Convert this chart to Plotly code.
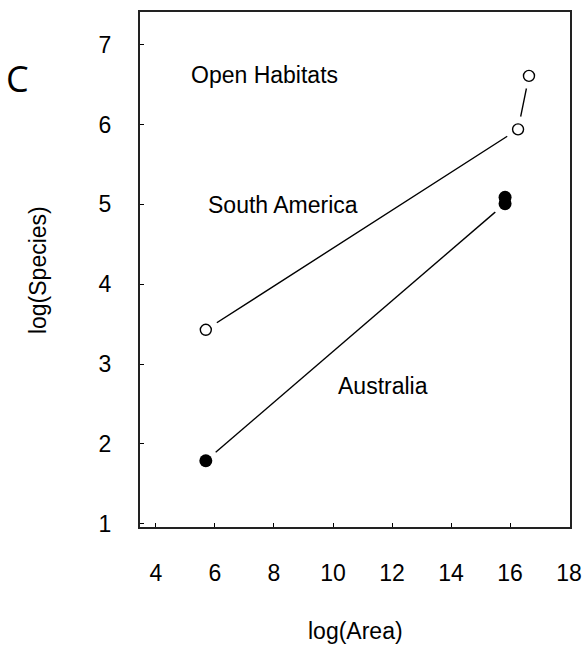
import plotly.graph_objects as go

# Data
open_x = [5.69, 16.27, 16.64]
open_y = [3.43, 5.94, 6.61]
filled_x = [5.69, 15.83, 15.83]
filled_y = [1.79, 5.01, 5.09]

x_ticks = [4, 6, 8, 10, 12, 14, 16, 18]
y_ticks = [1, 2, 3, 4, 5, 6, 7]

labels = ["Open Habitats", "South America", "Australia"]
label_x = [7.69, 8.31, 11.69]
label_y = [6.62, 4.99, 2.73]

fig = go.Figure()

# connecting lines
fig.add_trace(go.Scatter(x=open_x, y=open_y, mode="lines",
                         line=dict(color="black", width=1.4), showlegend=False, hoverinfo="skip"))
fig.add_trace(go.Scatter(x=filled_x[:2], y=filled_y[:2], mode="lines",
                         line=dict(color="black", width=1.4), showlegend=False, hoverinfo="skip"))
# white halos to create gaps between lines and markers
fig.add_trace(go.Scatter(x=open_x + filled_x, y=open_y + filled_y, mode="markers",
                         marker=dict(size=26, color="white", line=dict(width=0)),
                         showlegend=False, hoverinfo="skip"))
# markers
fig.add_trace(go.Scatter(x=open_x, y=open_y, mode="markers",
                         marker=dict(size=11, color="white", line=dict(color="black", width=1.4)),
                         showlegend=False))
fig.add_trace(go.Scatter(x=filled_x, y=filled_y, mode="markers",
                         marker=dict(size=13, color="black", line=dict(width=0)),
                         showlegend=False))

font_main = "Liberation Sans, Arial, sans-serif"
FS = 23

annots = []
for t, xx, yy in zip(labels, label_x, label_y):
    annots.append(dict(x=xx, y=yy, text=t, showarrow=False, xref="x", yref="y",
                       font=dict(family=font_main, size=FS, color="black")))

annots.append(dict(x=-0.284, y=0.87, xref="paper", yref="paper", text="C",
                   showarrow=False, xanchor="center", yanchor="middle",
                   font=dict(family="Open Sans, sans-serif", size=36, color="black")))
annots.append(dict(text="log(Area)", x=0.5, y=-0.202, xref="paper", yref="paper", xanchor="center",
                   yanchor="middle", showarrow=False, font=dict(family=font_main, size=FS, color="black")))
annots.append(dict(text="log(Species)", x=-0.237, y=0.499, xref="paper", yref="paper", textangle=-90,
                   xanchor="center", yanchor="middle", showarrow=False,
                   font=dict(family=font_main, size=FS, color="black")))

fig.update_layout(
    width=584, height=653,
    margin=dict(l=140, r=14, t=12, b=126, autoexpand=False),
    paper_bgcolor="white", plot_bgcolor="white",
    annotations=annots,
)

fig.update_xaxes(range=[3.46, 18.03], tickvals=x_ticks, ticks="inside", ticklen=4, tickwidth=1,
                 tickcolor="black", showline=True, linecolor="#222", linewidth=2, mirror=True,
                 showgrid=False, zeroline=False, ticklabelstandoff=24, automargin=False,
                 tickfont=dict(family=font_main, size=FS, color="black"))
fig.update_yaxes(range=[0.96, 7.41], tickvals=y_ticks, ticks="inside", ticklen=4, tickwidth=1,
                 tickcolor="black", showline=True, linecolor="#222", linewidth=2, mirror=True,
                 showgrid=False, zeroline=False, ticklabelstandoff=22, automargin=False,
                 tickfont=dict(family=font_main, size=FS, color="black"))

fig.write_html("out.html", config={"displayModeBar": False},
               post_script="document.body.style.margin='0';document.body.style.padding='0';")
